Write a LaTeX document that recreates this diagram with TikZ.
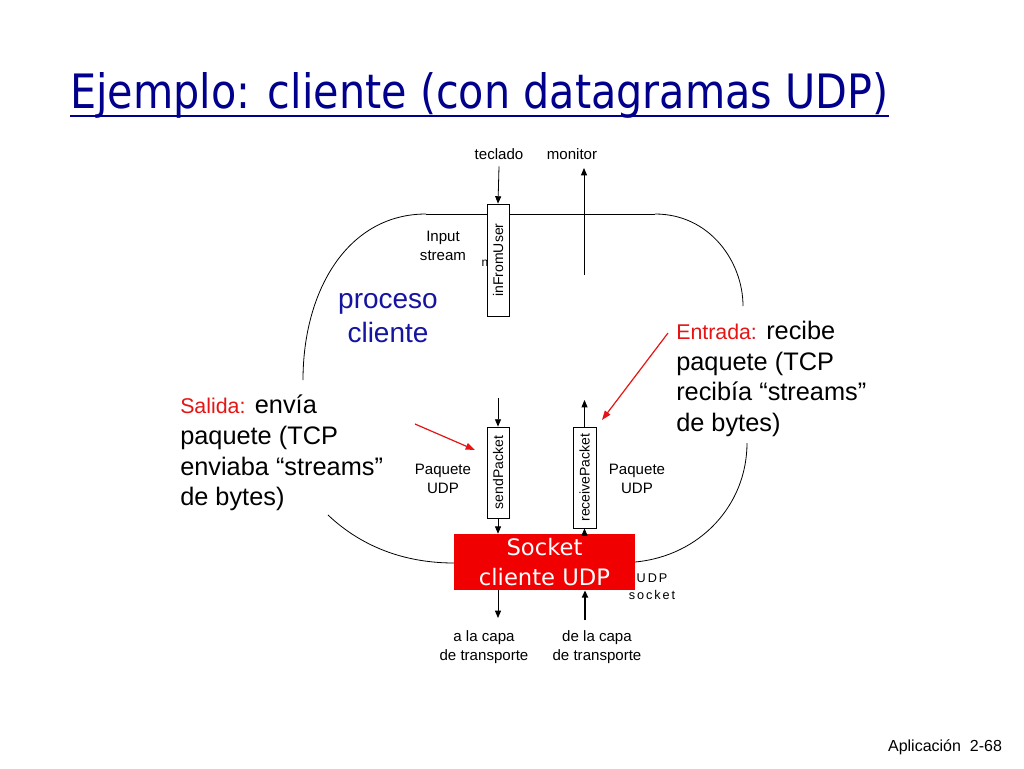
\documentclass[tikz,border=0pt]{standalone}
\usepackage{fontspec}
\setmainfont{Liberation Sans}
\newfontfamily\titlefont{DejaVu Sans}
\usetikzlibrary{arrows.meta}
\definecolor{navytitle}{RGB}{0,0,140}
\definecolor{procblue}{RGB}{20,20,160}
\definecolor{callred}{RGB}{230,20,20}
\definecolor{sockred}{RGB}{240,0,0}
\begin{document}
\begin{tikzpicture}[x=0.75pt,y=-0.75pt,
 every node/.style={inner sep=0pt},
 lbl/.style={font=\fontsize{11.3}{14.25}\selectfont, align=center},
 big/.style={font=\fontsize{19}{23}\selectfont, align=left, anchor=north west},
 sbox/.style={draw, fill=white, line width=0.6pt, minimum width=16.5pt, font=\fontsize{10.5}{12}\selectfont},
 arr/.style={-{Triangle[length=5.5pt,width=4.5pt]}, line width=0.6pt},
 redarr/.style={-{Triangle[length=7pt,width=5pt]}, callred, line width=0.9pt},
 outline/.style={line width=0.6pt}]
\useasboundingbox (0,0) rectangle (1024,768);
\fill[white] (0,0) rectangle (1024,768);

% title
\node[anchor=base west, text=navytitle] (title) at (70,108)
  {\resizebox{613.5pt}{27pt}{\titlefont Ejemplo: cliente (con datagramas UDP)}};
\draw[navytitle, line width=2pt] ([yshift=-6pt]title.base west) -- ([yshift=-6pt]title.base east);

% process outline
\draw[outline] (426,214) .. controls (348,214) and (303,290) .. (303,380);
\draw[outline] (426,214) -- (655,214);
\draw[outline] (655,214) .. controls (710,214) and (743,262) .. (743,306);
\draw[outline] (328,515) .. controls (365,550) and (410,563) .. (454,563);
\draw[outline] (635,562) .. controls (700,556) and (747,505) .. (747,443);

% boxes
\node[sbox, minimum height=84pt] (inFromUser) at (498,260) {\rotatebox{90}{inFromUser}};
\node[sbox, minimum height=68.25pt] (sendPacket) at (498,472.5) {\rotatebox{90}{sendPacket}};
\node[sbox, minimum width=17.25pt, minimum height=75.75pt] (receivePacket) at (584.5,477.5) {\rotatebox{90}{receivePacket}};
\node[fill=sockred, minimum width=135.75pt, minimum height=42pt, text=white, align=center,
      font=\titlefont\fontsize{17}{22}\selectfont] (socket) at (544.5,562) {Socket\\cliente UDP};

% top labels and arrows
\node[lbl] (teclado) at (499,154) {teclado};
\node[lbl] (monitor) at (572,154) {monitor};
\coordinate (monTop) at (584,168);
\coordinate (monBot) at (584,275);
\draw[arr] ([yshift=-5pt]teclado.south) -- (inFromUser.north);
\draw[arr] (monBot) -- (monTop);

\node[lbl] (inputstream) at (443,246) {Input\\stream};
\node[font=\fontsize{9}{10}\selectfont] (nn) at (485,263) {n};
\node[font=\fontsize{21}{25.5}\selectfont, text=procblue, align=center] (proceso) at (388,318) {proceso\\cliente};

% packet arrows
\coordinate (sendIn) at (498,398);
\draw[arr] (sendIn) -- (sendPacket.north);
\draw[arr] (sendPacket.south) -- (sendPacket.south |- socket.north);
\coordinate (recvOut) at (584.5,400);
\draw[arr] (receivePacket.north) -- (recvOut);
\draw[arr] (receivePacket.south |- socket.north) -- (receivePacket.south);

% bottom arrows
\coordinate (toTrans) at (498,618);
\draw[arr] (socket.south -| sendPacket.south) -- (toTrans);
\coordinate (fromTrans) at (585,620);
\draw[arr, line width=1.4pt] (fromTrans) -- (fromTrans |- socket.south);

\node[lbl] (alacapa) at (484,647) {a la capa\\de transporte};
\node[lbl] (delacapa) at (597,647) {de la capa\\de transporte};
\node[lbl] (paqL) at (443,479) {Paquete\\UDP};
\node[lbl] (paqR) at (637,479) {Paquete\\UDP};
\node[font=\fontsize{9.5}{12.75}\selectfont, align=center] (udpsock) at (652,587)
  {\addfontfeature{LetterSpace=15}UDP\\\addfontfeature{LetterSpace=15}socket};

% callouts
\node[big] (salida) at (180,395) {\textcolor{callred}{\fontsize{16}{23}\selectfont Salida:} envía\\paquete (TCP\\enviaba “streams”\\de bytes)};
\node[big] (entrada) at (676,321) {\textcolor{callred}{\fontsize{16}{23}\selectfont Entrada:} recibe\\paquete (TCP\\recibía “streams”\\de bytes)};
\coordinate (sa1) at (415,424);
\coordinate (sa2) at (475,450);
\draw[redarr] (sa1) -- (sa2);
\coordinate (ea1) at (668,333);
\coordinate (ea2) at (602,420);
\draw[redarr] (ea1) -- (ea2);

% footer
\node[font=\fontsize{12}{14}\selectfont] (footer) at (945,747) {Aplicación\ \ 2-68};
\end{tikzpicture}
\end{document}
